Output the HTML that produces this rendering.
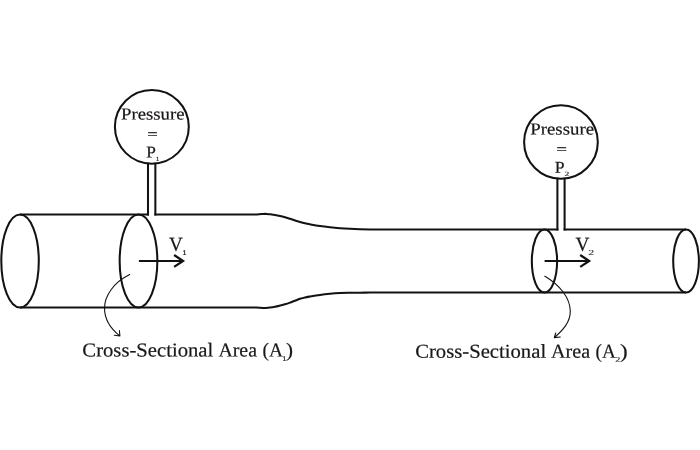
<!DOCTYPE html>
<html lang="en">
<head>
<meta charset="utf-8">
<title>Continuity equation – pipe flow</title>
<style>
  html, body { margin: 0; padding: 0; background: #ffffff; }
  body { width: 700px; height: 450px; overflow: hidden; }
  svg { display: block; will-change: transform; }
  text { font-family: "Liberation Serif", serif; text-rendering: geometricPrecision; fill: #1a1718; stroke: #1a1718; stroke-width: 0.2; }
  text.eq { stroke-width: 0.4; }
  text.sub { fill: #2f2c2d; stroke: #2f2c2d; stroke-width: 0.12; }
  text.one { stroke-width: 0.3; }
  .ln { fill: none; stroke: #141112; stroke-width: 2.05; stroke-linecap: butt; stroke-linejoin: miter; }
  .ar { fill: none; stroke: #141112; stroke-width: 2.2; stroke-linecap: butt; stroke-linejoin: miter; }
  .th { fill: none; stroke: #141112; stroke-width: 1.1; stroke-linecap: round; stroke-linejoin: round; }
</style>
</head>
<body>
<svg width="700" height="450" viewBox="0 0 700 450" role="img" aria-label="Pipe flow diagram: pressure P1, velocity V1 and cross-sectional area A1 in the wide section; pressure P2, velocity V2 and cross-sectional area A2 in the narrow section">
  <rect x="0" y="0" width="700" height="450" fill="#ffffff"/>

  <!-- pipe outline: top -->
  <path class="ln" d="M20,214.5 L149,214.5 M154.35,214.5 L244,214.5 C245.33,214.51 249.83,214.56 252.00,214.55 C254.17,214.54 255.67,214.52 257.00,214.45 C258.33,214.38 258.92,214.24 260.00,214.15 C261.08,214.06 262.33,213.93 263.50,213.90 C264.67,213.87 265.75,213.88 267.00,213.95 C268.25,214.02 269.67,214.19 271.00,214.35 C272.33,214.51 273.50,214.64 275.00,214.90 C276.50,215.16 278.33,215.52 280.00,215.90 C281.67,216.28 283.33,216.72 285.00,217.20 C286.67,217.68 288.33,218.25 290.00,218.80 C291.67,219.35 293.33,219.97 295.00,220.50 C296.67,221.03 298.33,221.53 300.00,222.00 C301.67,222.47 303.33,222.92 305.00,223.30 C306.67,223.68 307.50,223.85 310.00,224.30 C312.50,224.75 316.67,225.51 320.00,226.00 C323.33,226.49 326.67,226.88 330.00,227.25 C333.33,227.62 336.67,227.93 340.00,228.20 C343.33,228.47 346.67,228.67 350.00,228.85 C353.33,229.03 356.67,229.15 360.00,229.25 C363.33,229.35 366.67,229.41 370.00,229.45 C373.33,229.49 377.50,229.49 380.00,229.50 C382.50,229.51 384.17,229.50 385.00,229.50 L558.4,229.5 M563.6,229.5 L686,229.5"/>
  <!-- pipe outline: bottom -->
  <path class="ln" d="M20,307.5 L244,307.5 C245.33,307.49 249.83,307.43 252.00,307.45 C254.17,307.47 255.67,307.53 257.00,307.60 C258.33,307.67 259.00,307.78 260.00,307.85 C261.00,307.92 262.00,307.98 263.00,308.00 C264.00,308.02 264.83,308.02 266.00,307.95 C267.17,307.88 268.50,307.75 270.00,307.55 C271.50,307.35 273.33,307.07 275.00,306.75 C276.67,306.43 278.33,306.01 280.00,305.60 C281.67,305.19 283.33,304.79 285.00,304.30 C286.67,303.81 288.33,303.25 290.00,302.65 C291.67,302.05 293.33,301.33 295.00,300.70 C296.67,300.07 298.33,299.39 300.00,298.85 C301.67,298.31 303.33,297.84 305.00,297.45 C306.67,297.06 307.50,296.93 310.00,296.50 C312.50,296.07 316.67,295.35 320.00,294.90 C323.33,294.45 326.67,294.10 330.00,293.80 C333.33,293.50 336.67,293.27 340.00,293.10 C343.33,292.93 346.67,292.88 350.00,292.80 C353.33,292.73 356.67,292.69 360.00,292.65 C363.33,292.61 366.67,292.60 370.00,292.58 C373.33,292.56 377.50,292.56 380.00,292.55 C382.50,292.55 384.17,292.55 385.00,292.55 L686,292.55"/>

  <!-- end caps and cross sections -->
  <ellipse class="ln" cx="20.05" cy="261" rx="18.75" ry="46.5"/>
  <ellipse class="ln" cx="138.5" cy="261" rx="18.85" ry="46.5"/>
  <ellipse class="ln" cx="544.47" cy="261.03" rx="12.65" ry="31.5"/>
  <ellipse class="ln" cx="686.05" cy="261.03" rx="12.85" ry="31.5"/>

  <!-- pressure gauges -->
  <ellipse class="ln" cx="151.85" cy="126.8" rx="36.95" ry="36.85"/>
  <path class="ln" d="M148,162.8 L148,215.5 M155.35,162.8 L155.35,215.5"/>
  <ellipse class="ln" cx="560.95" cy="142" rx="36.85" ry="36.8"/>
  <path class="ln" d="M557.4,177.8 L557.4,230.5 M564.6,177.8 L564.6,230.5"/>

  <!-- velocity arrows -->
  <path class="ar" d="M138.9,261 L183.5,261 M174.1,255 L183.1,261 L174.1,266.9"/>
  <path class="ar" d="M544.6,261 L589.6,261 M580.2,255 L589.2,261 L580.2,266.9"/>

  <!-- pointer arrows -->
  <path class="th" d="M129.7,274.6 C113.5,282.5 104.6,296 104.5,308 C104.5,320 111,329 119.9,336 M114.3,335.2 L119.9,336 L119.4,330.5"/>
  <path class="th" d="M544.9,276.2 C560,285 570,298 570.3,311 C570.5,322 563,330 554.3,337.6 M555.7,333 L554.3,337.6 L560.3,337"/>

  <!-- labels -->
  <text transform="matrix(1.1190 0.0006 0 1 120.96 119.50)" font-size="16.8">Pressure</text>
  <text class="eq" transform="matrix(1.2741 0.0006 0 1 147.41 138.70)" font-size="14">=</text>
  <text transform="matrix(1.0447 0.0006 0 1 146.20 157.50)" font-size="16.5">P</text>
  <text class="sub one" transform="matrix(0.9305 0.0006 0 1 156.13 160.70)" font-size="5.8">1</text>
  <text transform="matrix(1.1225 0.0006 0 1 530.26 134.50)" font-size="16.8">Pressure</text>
  <text class="eq" transform="matrix(1.3048 0.0006 0 1 556.49 153.65)" font-size="14">=</text>
  <text transform="matrix(1.0696 0.0006 0 1 554.79 172.80)" font-size="16.5">P</text>
  <text class="sub" transform="matrix(1.5201 0.0006 0 1 564.47 176.00)" font-size="6.4">2</text>
  <text transform="matrix(0.9672 0.0006 0 1 169.08 250.80)" font-size="19.8">V</text>
  <text class="sub one" transform="matrix(1.1871 0.0006 0 1 182.50 254.70)" font-size="6.7">1</text>
  <text transform="matrix(0.9744 0.0006 0 1 575.48 250.80)" font-size="19.8">V</text>
  <text class="sub" transform="matrix(1.5427 0.0006 0 1 588.18 255.00)" font-size="7.6">2</text>
  <text transform="matrix(1.0453 0.0006 0 1 82.35 356.40)" font-size="19.8">Cross-Sectional</text>
  <text transform="matrix(1.0025 0.0006 0 1 218.41 356.40)" font-size="19.8">Area</text>
  <text transform="matrix(0.9810 0.0006 0 1 262.45 356.40)" font-size="19.8">(A</text>
  <text class="sub one" transform="matrix(1.1190 0.0006 0 1 282.55 360.80)" font-size="6.6">1</text>
  <text transform="matrix(1.0619 0.0006 0 1 286.02 356.40)" font-size="19.8">)</text>
  <text transform="matrix(1.0457 0.0006 0 1 415.15 357.80)" font-size="19.8">Cross-Sectional</text>
  <text transform="matrix(1.0170 0.0006 0 1 551.05 357.80)" font-size="19.8">Area</text>
  <text transform="matrix(0.9710 0.0006 0 1 595.56 357.80)" font-size="19.8">(A</text>
  <text class="sub" transform="matrix(1.4205 0.0006 0 1 615.35 361.80)" font-size="7.2">2</text>
  <text transform="matrix(1.1602 0.0006 0 1 620.06 357.80)" font-size="19.8">)</text>
</svg>
</body>
</html>
